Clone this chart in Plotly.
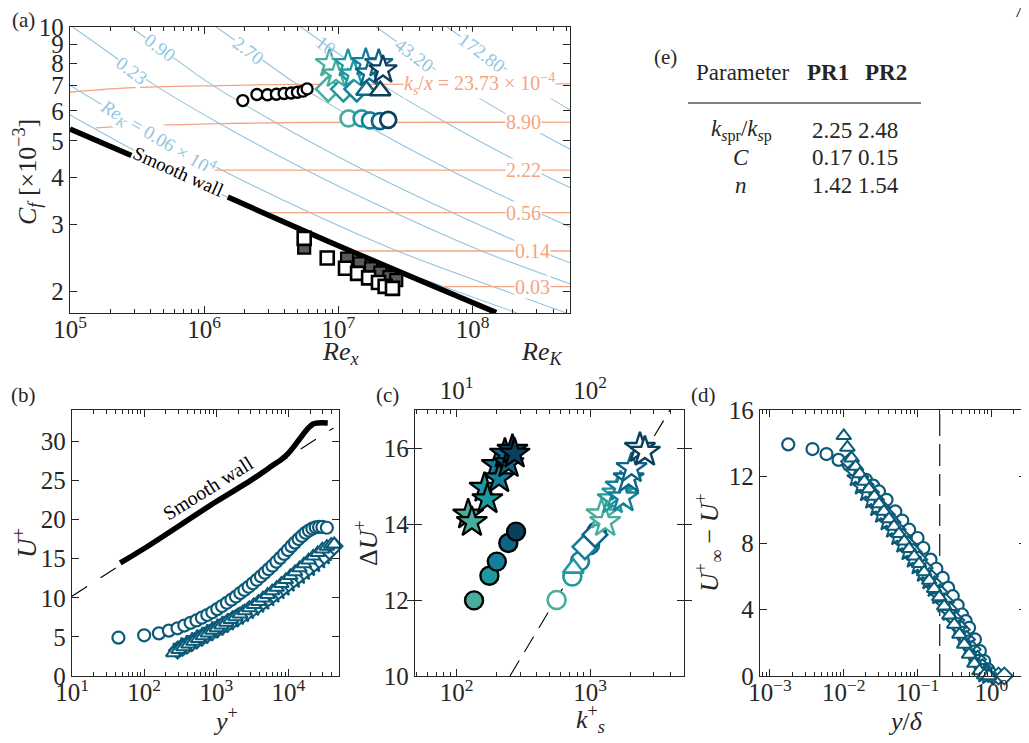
import math
import plotly.graph_objects as go

# page has an 8px body margin: the figure is drawn at (8, 8)
OFF = 8
W, H = 1029 - OFF, 743 - OFF
FONT = "Liberation Serif"
INK = "#262626"
BLUE = "#92c5de"
ORANGE = "#f4a582"
PAL = ["#47ad9c", "#1d999f", "#13809b", "#0e6587", "#0b3f5e"]
PROF = "#0b5a78"

# ---------------- panel (a) data ----------------
bl_cf = [10, 8.67, 7.06, 5.60, 4.18, 3.23, 2.556, 2.056, 1.752]
bl_Lm_rex = [1.05e4, 1.85e4, 4.17e4, 1.25e5, 5.79e5, 2.61e6, 1.17e7, 6.11e7, 2.14e8]
bl_L0_rex = [2.45e4, 4.34e4, 9.77e4, 2.93e5, 1.36e6, 6.12e6, 2.75e7, 1.43e8, 5.0e8]
bl_L1_rex = [1.05e5, 1.85e5, 4.17e5, 1.25e6, 5.79e6, 2.61e7, 1.17e8, 6.11e8]
bl_L2_rex = [2.82e5, 4.98e5, 1.12e6, 3.37e6, 1.56e7, 7.03e7, 3.16e8, 1.64e9]
bl_L3_rex = [1.23e6, 2.17e6, 4.9e6, 1.47e7, 6.81e7, 3.07e8, 1.38e9]
bl_L4_rex = [5.25e6, 9.27e6, 2.09e7, 6.27e7, 2.9e8, 1.31e9]
bl_L5_rex = [1.91e7, 3.37e7, 7.59e7, 2.28e8, 1.05e9]
bl_L6_rex = [6.46e7, 1.14e8, 2.57e8, 7.71e8]

or_O1_rex = [1e5, 2.7e5, 1.3e6, 5e6, 6e8]
or_O1_cf = [6.72, 6.90, 7.0, 7.05, 7.07]
or_O2_rex = [1.55e5, 4e5, 1.3e6, 5e6, 6e8]
or_O2_cf = [5.41, 5.49, 5.55, 5.59, 5.60]
or_O3_rex = [5.8e5, 6e8]
or_O3_cf = [4.18, 4.18]
or_O4_rex = [2.61e6, 6e8]
or_O4_cf = [3.23, 3.23]
or_O5_rex = [1.17e7, 6e8]
or_O5_cf = [2.556, 2.556]
or_O6_rex = [6.11e7, 6e8]
or_O6_cf = [2.056, 2.056]

smooth_a1_rex = [1e5, 2.87e5]
smooth_a1_cf = [5.37, 4.57]
smooth_a2_rex = [1.5e6, 1e7, 1.5e8]
smooth_a2_cf = [3.55, 2.64, 1.757]

blk_circ_rex = [1.94e6, 2.47e6, 2.96e6, 3.45e6, 3.94e6, 4.45e6, 4.95e6, 5.46e6, 5.85e6]
blk_circ_cf = [6.39, 6.63, 6.62, 6.64, 6.67, 6.69, 6.72, 6.77, 6.86]

a_star_rex = [8.6e6, 9.6e6, 1.18e7, 1.3e7, 1.6e7, 1.7e7, 2.0e7, 2.15e7]
a_star_cf = [8.0, 7.5, 8.0, 7.5, 8.05, 7.55, 8.0, 7.7]
a_star_c = [0, 0, 1, 1, 2, 3, 3, 4]
a_diam_rex = [8.4e6, 1.09e7, 1.37e7]
a_diam_cf = [6.85, 6.85, 6.85]
a_diam_c = [0, 1, 2]
a_tri_rex = [1.62e7, 2.05e7]
a_tri_cf = [6.8, 6.78]
a_tri_c = [3, 4]
a_circ_rex = [1.19e7, 1.49e7, 1.72e7, 2.04e7, 2.35e7]
a_circ_cf = [5.73, 5.73, 5.66, 5.64, 5.68]

sq_grey_rex = [5.56e6, 1.16e7, 1.44e7, 1.75e7, 2.05e7, 2.4e7, 2.7e7]
sq_grey_cf = [2.61, 2.44, 2.37, 2.30, 2.24, 2.18, 2.14]
sq_white_rex = [5.56e6, 8.26e6, 1.13e7, 1.39e7, 1.68e7, 1.99e7, 2.23e7, 2.53e7]
sq_white_cf = [2.76, 2.45, 2.30, 2.23, 2.17, 2.11, 2.06, 2.035]

# ---------------- panel (b) data ----------------
b_smooth_yp = [46.6, 100, 1000, 3000, 6000, 8000, 10000, 14000, 18000, 22000, 26000, 35000]
b_smooth_up = [14.45, 16.3, 22.3, 25.0, 26.9, 27.7, 28.5, 30.2, 31.5, 32.2, 32.35, 32.35]
b_log_yp = [10, 42000]
b_log_up = [10.2, 31.7]

b_circ_yp = [44, 100, 160, 220, 290, 360, 440, 530, 630, 750, 880, 1030, 1200, 1400, 1620,
             1870, 2150, 2450, 2800, 3200, 3650, 4150, 4700, 5300, 6000, 6800, 7700, 8700,
             9800, 11000, 12300, 13800, 15400, 17200, 19200, 21400, 23800, 26500, 29500, 34000]
b_circ_up = [4.9, 5.2, 5.45, 5.8, 6.1, 6.45, 6.8, 7.1, 7.45, 7.8, 8.15, 8.55, 8.95, 9.35, 9.75,
             10.15, 10.6, 11.0, 11.4, 11.85, 12.3, 12.75, 13.2, 13.65, 14.1, 14.6, 15.1, 15.6,
             16.1, 16.6, 17.05, 17.5, 17.9, 18.3, 18.6, 18.85, 19.0, 19.05, 19.05, 18.95]
b_tri_yp = [254, 300, 350, 410, 480, 560, 650, 760, 880, 1020, 1180, 1370, 1590, 1840, 2130,
            2470, 2860, 3310, 3830, 4430, 5130, 5940, 6870, 7950, 9200, 10600, 12300, 14200,
            16400, 19000, 22000, 25400, 29400, 34000, 39000, 43000]
b_tri_up = [2.95, 3.35, 3.7, 4.05, 4.4, 4.75, 5.1, 5.45, 5.8, 6.15, 6.5, 6.85, 7.2, 7.55, 7.9,
            8.3, 8.7, 9.1, 9.5, 9.95, 10.4, 10.85, 11.3, 11.8, 12.3, 12.8, 13.3, 13.8,
            14.3, 14.8, 15.3, 15.75, 16.2, 16.55, 16.8, 16.85]
b_diam_yp = [290, 340, 400, 470, 550, 650, 760, 890, 1050, 1230, 1450, 1700, 2000, 2350, 2760,
             3250, 3820, 4490, 5280, 6210, 7300, 8580, 10100, 11900, 14000, 16400, 19300,
             22700, 26700, 31400, 37000, 43000]
b_diam_up = [3.3, 3.65, 4.0, 4.35, 4.7, 5.05, 5.4, 5.75, 6.1, 6.45, 6.8, 7.15, 7.5, 7.9, 8.3,
             8.7, 9.1, 9.55, 10.0, 10.45, 10.9, 11.4, 11.9, 12.4, 12.9, 13.4, 13.9,
             14.4, 14.9, 15.4, 16.0, 16.6]
b_star_yp = [330, 390, 460, 540, 640, 750, 880, 1040, 1220, 1440, 1690, 1990, 2340, 2750, 3240,
             3810, 4480, 5270, 6200, 7290, 8580, 10100, 11900, 14000, 16400, 19300, 22700,
             26700, 31000, 33000]
b_star_up = [3.75, 4.05, 4.4, 4.75, 5.1, 5.45, 5.8, 6.15, 6.5, 6.85, 7.2, 7.55, 7.9, 8.3, 8.7,
             9.1, 9.5, 9.95, 10.4, 10.85, 11.3, 11.8, 12.3, 12.8, 13.3, 13.8, 14.3,
             14.8, 15.3, 15.7]

# ---------------- panel (c) data ----------------
c_fstar_k = [122, 130, 162, 170, 200, 208, 230, 245, 262, 272]
c_fstar_du = [14.25, 14.05, 14.95, 14.65, 15.55, 15.2, 15.85, 15.6, 15.95, 15.85]
c_fstar_c = [0, 0, 1, 1, 2, 2, 3, 3, 4, 4]
c_fcirc_k = [135, 176, 200, 244, 279]
c_fcirc_du = [11.99, 12.64, 13.01, 13.5, 13.8]
c_ocirc_k = [562, 737, 841, 1000, 1122]
c_ocirc_du = [12.0, 12.62, 13.02, 13.45, 13.8]
c_otri_k = [750]
c_otri_du = [12.84]
c_otri_c = [1]
c_odiam_k = [917, 1090]
c_odiam_du = [13.4, 13.72]
c_odiam_c = [2, 3]
c_ostar_k = [1220, 1300, 1480, 1600, 1700, 1780, 1950, 2050, 2370, 2580]
c_ostar_du = [14.25, 14.05, 14.65, 14.8, 14.98, 14.7, 15.2, 15.47, 16.0, 15.9]
c_ostar_c = [0, 0, 1, 1, 2, 2, 3, 3, 4, 4]
c_dash_k = [251, 3980]
c_dash_du = [10.0, 17.0]

# ---------------- panel (d) data ----------------
d_circ_y = [0.00177, 0.00377, 0.00583, 0.0085, 0.0117, 0.015, 0.02, 0.025, 0.03, 0.038, 0.05,
            0.062, 0.077, 0.1, 0.12, 0.15, 0.18, 0.22, 0.26, 0.3, 0.35, 0.4, 0.45, 0.5, 0.6,
            0.7, 0.8, 0.9, 1.0]
d_circ_v = [13.93, 13.65, 13.35, 13.0, 12.7, 12.3, 11.8, 11.45, 11.1, 10.6, 9.9, 9.35, 8.8,
            8.3, 7.7, 7.0, 6.45, 5.9, 5.3, 4.8, 4.25, 3.7, 3.3, 2.9, 2.2, 1.5, 0.9, 0.4, 0.1]
d_tri_y = [0.0100, 0.0112, 0.0128, 0.0145, 0.0165, 0.019, 0.022, 0.026, 0.030, 0.035, 0.041,
           0.048, 0.056, 0.066, 0.077, 0.09, 0.105, 0.123, 0.144, 0.168, 0.197, 0.23, 0.27,
           0.315, 0.37, 0.43, 0.5, 0.59, 0.69, 0.8, 0.93]
d_tri_v = [14.45, 13.75, 13.1, 12.6, 12.15, 11.7, 11.25, 10.8, 10.35, 9.9, 9.45, 9.0, 8.55,
           8.1, 7.65, 7.2, 6.75, 6.25, 5.75, 5.25, 4.75, 4.2, 3.65, 3.1, 2.5, 1.9, 1.3, 0.75,
           0.3, 0.05, 0.0]
d_star_y = [0.0145, 0.017, 0.02, 0.0235, 0.0275, 0.032, 0.038, 0.045, 0.053, 0.062, 0.073,
            0.086, 0.1, 0.118, 0.14, 0.165, 0.19, 0.225, 0.265, 0.31, 0.36, 0.42, 0.5, 0.58,
            0.68, 0.8, 0.9]
d_star_v = [11.9, 11.4, 11.0, 10.55, 10.1, 9.7, 9.25, 8.8, 8.35, 7.9, 7.45, 7.0, 6.6, 6.15,
            5.7, 5.25, 4.8, 4.3, 3.8, 3.3, 2.8, 2.25, 1.65, 1.1, 0.55, 0.1, 0.0]
d_diam_y = [0.012, 0.014, 0.0165, 0.0195, 0.023, 0.027, 0.032, 0.038, 0.045, 0.053, 0.063,
            0.074, 0.088, 0.104, 0.123, 0.145, 0.17, 0.2, 0.24, 0.28, 0.33, 0.39, 0.46, 0.55,
            0.65, 0.76, 0.9, 1.05, 1.25, 1.5]
d_diam_v = [12.9, 12.4, 11.95, 11.5, 11.05, 10.6, 10.15, 9.7, 9.25, 8.8, 8.35, 7.9, 7.45, 7.0,
            6.5, 6.0, 5.5, 5.0, 4.45, 3.9, 3.35, 2.8, 2.2, 1.6, 1.0, 0.5, 0.15, 0.0, 0.0, 0.0]
d_vline_y = [0.2, 0.2]
d_vline_v = [0, 16]

# ---------------- panel (e) table ----------------
tab_header = ["Parameter", "PR1", "PR2"]
tab_rows = ["<i>k</i><sub><i>s</i>pr</sub>/<i>k</i><sub><i>s</i>p</sub>", "<i>C</i>", "<i>n</i>"]
tab_pr1 = ["2.25", "0.17", "1.42"]
tab_pr2 = ["2.48", "0.15", "1.54"]


def px(x):
    return (x - OFF) / W


def py(y):
    return 1 - (y - OFF) / H


fig = go.Figure()


def line(xs, ys, ax, color, width, dash=None, shape="linear"):
    fig.add_trace(go.Scatter(x=xs, y=ys, xaxis=ax[0], yaxis=ax[1], mode="lines",
                             line=dict(color=color, width=width, dash=dash, shape=shape),
                             hoverinfo="skip", showlegend=False))


def marks(xs, ys, ax, symbol, size, fill, edge, lw, clip=False):
    fig.add_trace(go.Scatter(x=xs, y=ys, xaxis=ax[0], yaxis=ax[1], mode="markers",
                             marker=dict(symbol=symbol, size=size, color=fill,
                                         line=dict(color=edge, width=lw)),
                             cliponaxis=clip, hoverinfo="skip", showlegend=False))


A = ("x", "y")
for rx in [bl_Lm_rex, bl_L0_rex, bl_L1_rex, bl_L2_rex, bl_L3_rex, bl_L4_rex, bl_L5_rex,
           bl_L6_rex]:
    line(rx, bl_cf[:len(rx)], A, BLUE, 1.1, shape="spline")
for rx, cf in [(or_O1_rex, or_O1_cf), (or_O2_rex, or_O2_cf), (or_O3_rex, or_O3_cf),
               (or_O4_rex, or_O4_cf), (or_O5_rex, or_O5_cf), (or_O6_rex, or_O6_cf)]:
    line(rx, cf, A, ORANGE, 1.3, shape="spline")
line(smooth_a1_rex, smooth_a1_cf, A, "black", 5.5)
line(smooth_a2_rex, smooth_a2_cf, A, "black", 5.5, shape="spline")

marks(blk_circ_rex, blk_circ_cf, A, "circle", 11, "white", "black", 2.3)
marks(sq_grey_rex, sq_grey_cf, A, "square", 12, "#5a5a5a", "black", 2.2)
marks(sq_white_rex, sq_white_cf, A, "square", 13, "white", "black", 2.6)
marks(a_diam_rex, a_diam_cf, A, "diamond", 19, "white", [PAL[i] for i in a_diam_c], 2.5)
marks(a_tri_rex, a_tri_cf, A, "triangle-up", 18, "white", [PAL[i] for i in a_tri_c], 2.5)
marks(a_star_rex, a_star_cf, A, "star", 21, "white", [PAL[i] for i in a_star_c], 2.3)
marks(a_circ_rex, a_circ_cf, A, "circle", 16, "white", PAL, 2.7)

B = ("x2", "y2")
line(b_log_yp, b_log_up, B, "black", 1.1, "18px,16px")
line(b_smooth_yp, b_smooth_up, B, "black", 5.5, shape="spline")
marks(b_circ_yp, b_circ_up, B, "circle", 12, "white", PROF, 2.2)
marks(b_star_yp, b_star_up, B, "star", 13, "white", PROF, 2.0)
marks(b_diam_yp, b_diam_up, B, "diamond", 13, "white", PROF, 2.0)
marks(b_tri_yp, b_tri_up, B, "triangle-up", 13, "white", PROF, 2.0)

C = ("x3", "y3")
line(c_dash_k, c_dash_du, C, "black", 1.1, "18px,10px")
marks(c_fcirc_k, c_fcirc_du, C, "circle", 18, PAL, "black", 2.4)
marks(c_fstar_k, c_fstar_du, C, "star", 23, [PAL[i] for i in c_fstar_c], "black", 2.2)
marks(c_ocirc_k, c_ocirc_du, C, "circle", 18, "white", PAL, 2.6)
marks(c_otri_k, c_otri_du, C, "triangle-up", 18, "white", [PAL[i] for i in c_otri_c], 2.6)
marks(c_odiam_k, c_odiam_du, C, "diamond", 19, "white", [PAL[i] for i in c_odiam_c], 2.6)
marks(c_ostar_k, c_ostar_du, C, "star", 23, "white", [PAL[i] for i in c_ostar_c], 2.4)
fig.add_trace(go.Scatter(x=[10, 100], y=[10, 10], xaxis="x4", yaxis="y3", mode="markers",
                         marker=dict(opacity=0), hoverinfo="skip", showlegend=False))

D = ("x5", "y5")
line(d_vline_y, d_vline_v, D, "black", 1.1, "22px,8px")
marks(d_circ_y, d_circ_v, D, "circle", 12, "white", PROF, 2.2)
marks(d_diam_y, d_diam_v, D, "diamond", 13, "white", PROF, 2.0)
marks(d_star_y, d_star_v, D, "star", 13, "white", PROF, 2.0)
marks(d_tri_y, d_tri_v, D, "triangle-up", 13, "white", PROF, 2.0)


def minor_log(lo, hi):
    return [k * 10.0 ** e for e in range(lo, hi + 1) for k in range(2, 10)]


tickfont = dict(family=FONT, size=25, color=INK)
base = dict(showline=True, linecolor=INK, linewidth=1.3, mirror="allticks", ticks="inside",
            ticklen=7, tickwidth=1.2, tickcolor=INK, showgrid=False, zeroline=False,
            tickfont=tickfont, automargin=False)
xb = dict(ticklabelstandoff=-6)


def minor(lo, hi):
    return dict(tickmode="array", tickvals=minor_log(lo, hi), ticks="inside", ticklen=4,
                tickwidth=1, tickcolor=INK, showgrid=False)


def sup(e):
    return "10<sup>%s</sup>" % (str(e).replace("-", "−"))


fig.update_layout(
    width=W, height=H, margin=dict(l=0, r=0, t=0, b=0, autoexpand=False),
    paper_bgcolor="white", plot_bgcolor="white",
    xaxis=dict(base, **xb, type="log", domain=[px(70), px(570)], range=[5, 8.726], anchor="y",
               tickmode="array", tickvals=[1e5, 1e6, 1e7, 1e8],
               ticktext=[sup(5), sup(6), sup(7), sup(8)], minor=minor(5, 8)),
    yaxis=dict(base, type="log", domain=[py(313), py(27)], range=[0.2435, 1.0], anchor="x",
               tickmode="array", tickvals=[2, 3, 4, 5, 6, 7, 8, 9, 10],
               ticktext=["2", "3", "4", "5", "6", "7", "8", "9", "10"]),
    xaxis2=dict(base, **xb, type="log", domain=[px(72), px(339)], range=[1, 4.70], anchor="y2",
                tickmode="array", tickvals=[10, 100, 1e3, 1e4],
                ticktext=[sup(1), sup(2), sup(3), sup(4)], minor=minor(1, 4)),
    yaxis2=dict(base, domain=[py(676), py(410)], range=[0, 34], anchor="x2",
                tickmode="array", tickvals=[0, 5, 10, 15, 20, 25, 30]),
    xaxis3=dict(base, **xb, type="log", domain=[px(415), px(684)], range=[1.6875, 3.705],
                anchor="y3", mirror=False, tickmode="array", tickvals=[100, 1000],
                ticktext=[sup(2), sup(3)], minor=minor(1, 3)),
    xaxis4=dict(base, type="log", overlaying="x3", side="top", anchor="y3",
                range=[0.6875, 2.705], mirror=False, tickmode="array", tickvals=[10, 100],
                ticktext=[sup(1), sup(2)], minor=minor(0, 2)),
    yaxis3=dict(base, domain=[py(676), py(410)], range=[10, 17], anchor="x3",
                tickmode="array", tickvals=[10, 12, 14, 16]),
    xaxis5=dict(base, **xb, type="log", domain=[px(760), px(1026)], range=[-3.135, 0.47],
                anchor="y5", tickmode="array", tickvals=[1e-3, 1e-2, 1e-1, 1],
                ticktext=[sup(-3), sup(-2), sup(-1), sup(0)], minor=minor(-4, 0)),
    yaxis5=dict(base, domain=[py(676), py(410)], range=[0, 16], anchor="x5",
                tickmode="array", tickvals=[0, 4, 8, 12, 16]),
)

ann = []


def text(x, y, s, size=21, angle=0, color=INK):
    ann.append(dict(x=px(x), y=py(y), xref="paper", yref="paper", text=s, showarrow=False,
                    font=dict(family=FONT, size=size, color=color), textangle=angle,
                    xanchor="center", yanchor="middle"))


def dlabel(x, y, s, color, angle=0, size=17, bg="white"):
    ann.append(dict(x=x, y=y, xref="x", yref="y", text=s, showarrow=False,
                    font=dict(family=FONT, size=size, color=color), textangle=angle,
                    bgcolor=bg, borderpad=0, xanchor="center", yanchor="middle"))


lg = math.log10
# contour labels (panel a)
dlabel(lg(1.12e8), lg(7.07),
       "<i>k<sub>s</sub></i>/<i>x</i> = 23.73 × 10<sup>−4</sup>", ORANGE, 0, 20)
dlabel(lg(2.4e8), lg(5.60), "8.90", ORANGE, 0, 20)
dlabel(lg(2.4e8), lg(4.18), "2.22", ORANGE, 0, 20)
dlabel(lg(2.4e8), lg(3.23), "0.56", ORANGE, 0, 20)
dlabel(lg(2.8e8), lg(2.556), "0.14", ORANGE, 0, 20)
dlabel(lg(2.8e8), lg(2.056), "0.03", ORANGE, 0, 20)
dlabel(lg(2.88e5), lg(7.67), "0.23", BLUE, 37, 19)
dlabel(lg(4.65e5), lg(8.8), "0.90", BLUE, 37, 19)
dlabel(lg(2.14e6), lg(8.69), "2.70", BLUE, 37, 19)
dlabel(lg(8.43e6), lg(8.85), "10.", BLUE, 37, 19, None)
dlabel(lg(3.72e7), lg(8.43), "43.20", BLUE, 37, 19)
dlabel(lg(1.17e8), lg(8.58), "172.80", BLUE, 37, 19)
dlabel(lg(4.5e5), lg(5.1), "<i>Re<sub>K</sub></i> = 0.06 × 10<sup>4</sup>", BLUE, 31, 19)
dlabel(lg(6.4e5), lg(4.15), "Smooth wall", "black", 24, 19)

text(208, 488, "Smooth wall", 20, -32, "black")

# panel labels
text(23, 20, "(a)")
text(23, 395, "(b)")
text(387, 395, "(c)")
text(703, 395, "(d)")
text(665, 57, "(e)")
text(1018, 11, "7", 18)

# axis titles
text(340, 353, "<i>Re<sub>x</sub></i>", 26)
text(541, 353, "<i>Re<sub>K</sub></i>", 26)
text(27, 172, "<i>C<sub>f</sub></i> [×10<sup>−3</sup>]", 26, -90)
text(225, 719, "<i>y</i><sup>+</sup>", 26)
text(25, 543, "<i>U</i><sup>+</sup>", 27, -90)
text(590, 719, "<i>k</i><sup>+</sup><sub><i>s</i></sub>", 26)
text(366, 543, "Δ<i>U</i><sup>+</sup>", 26, -90)
text(905, 721, "<i>y</i>/<i>δ</i>", 26)
text(709, 543, "<i>U</i><sup>+</sup><sub>∞</sub> − <i>U</i><sup>+</sup>", 26, -90)

# table (e)
text(743, 73, tab_header[0], 23)
text(828, 73, "<b>%s</b>" % tab_header[1], 23)
text(886, 73, "<b>%s</b>" % tab_header[2], 23)
for i, ry in enumerate([130, 157, 185]):
    text(741, ry, tab_rows[i], 23)
    text(832, ry, tab_pr1[i], 23)
    text(878, ry, tab_pr2[i], 23)

fig.update_layout(annotations=ann,
                  shapes=[dict(type="line", xref="paper", yref="paper", x0=px(688), x1=px(921),
                               y0=py(103), y1=py(103), line=dict(color="black", width=1.2))])

fig.write_html("out.html")
